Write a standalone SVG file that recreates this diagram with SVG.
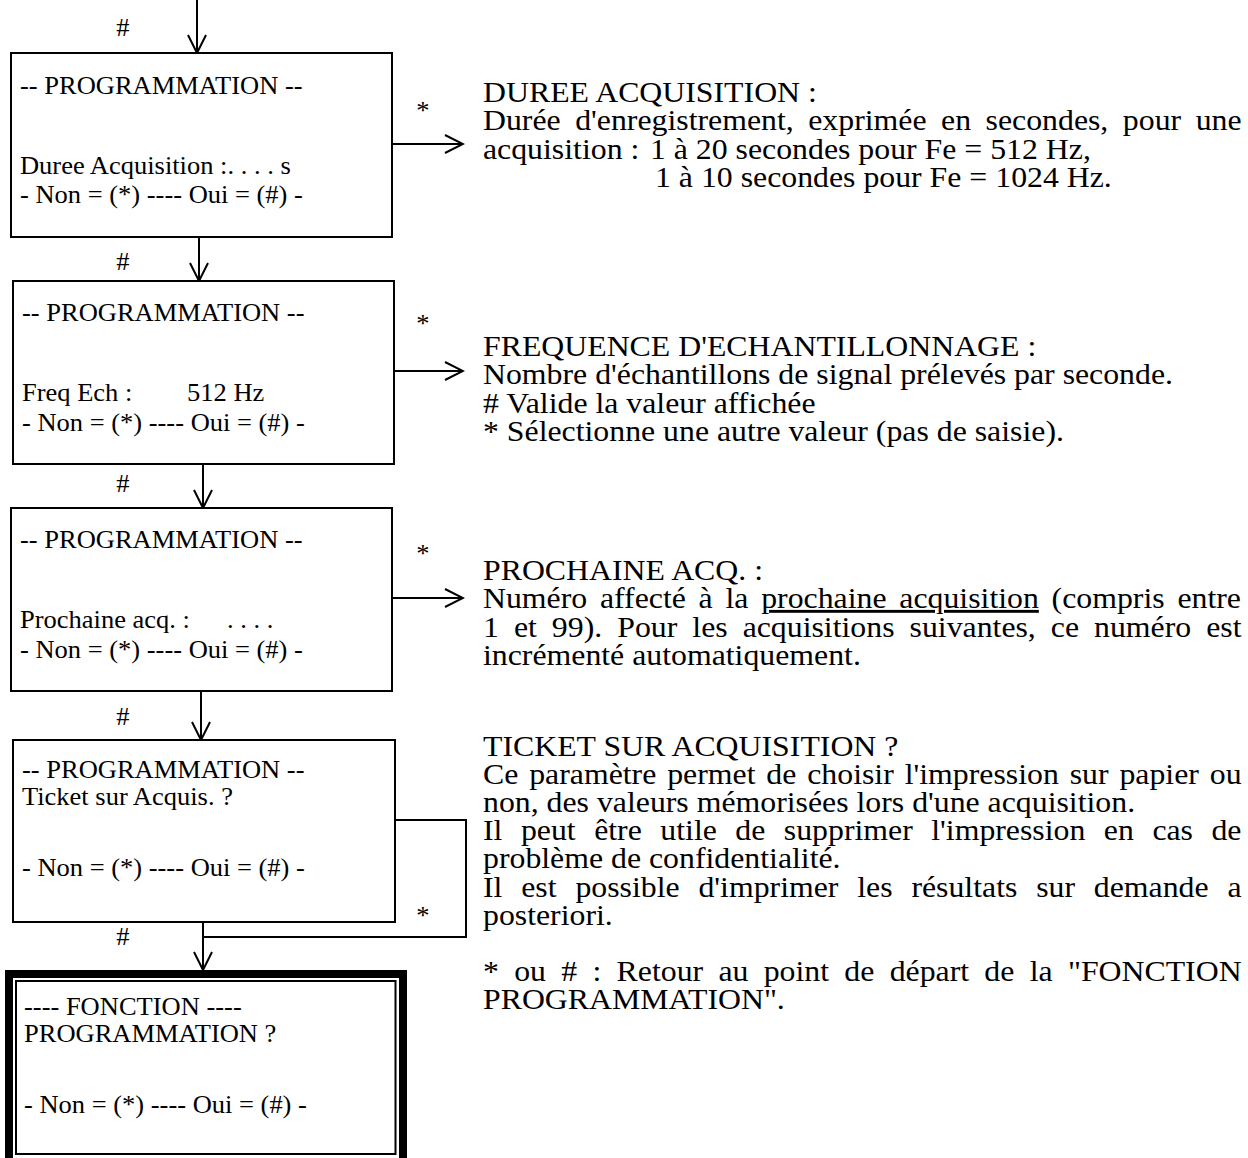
<svg xmlns="http://www.w3.org/2000/svg" width="1248" height="1158" viewBox="0 0 1248 1158">
  <style>
    .box { fill: #fff; stroke: #000; stroke-width: 2; }
    .wire { fill: none; stroke: #000; stroke-width: 2; }
    .bt { font-family: "Liberation Serif", "Times New Roman", serif; font-size: 24.16px; fill: #000; }
    .rt { font-family: "Liberation Serif", "Times New Roman", serif; font-size: 29px; fill: #000; }
    .mid { text-anchor: middle; }
  </style>
  <defs>
    <marker id="arr" viewBox="-20 -11 22 22" refX="0" refY="0" markerWidth="22" markerHeight="22" markerUnits="userSpaceOnUse" orient="auto">
      <path d="M-18,-9 L0,0 L-18,9" fill="none" stroke="#000" stroke-width="2"/>
    </marker>
  </defs>
  <rect width="1248" height="1158" fill="#fff"/>

  <!-- connectors -->
  <g id="connectors" class="wire">
    <line x1="197" y1="0" x2="197" y2="53" marker-end="url(#arr)"/>
    <line x1="199" y1="237" x2="199" y2="281" marker-end="url(#arr)"/>
    <line x1="203" y1="464" x2="203" y2="508" marker-end="url(#arr)"/>
    <line x1="201" y1="691" x2="201" y2="740" marker-end="url(#arr)"/>
    <line x1="203" y1="922" x2="203" y2="970" marker-end="url(#arr)"/>
    <line x1="392" y1="144" x2="463" y2="144" marker-end="url(#arr)"/>
    <line x1="394" y1="371" x2="463" y2="371" marker-end="url(#arr)"/>
    <line x1="392" y1="598" x2="463" y2="598" marker-end="url(#arr)"/>
    <polyline points="395,820 466,820 466,937 203,937"/>
  </g>

  <!-- screens -->
  <g id="screen-duree"><rect class="box" x="11" y="53" width="381" height="184"/></g>
  <g id="screen-freq"><rect class="box" x="13" y="281" width="381" height="183"/></g>
  <g id="screen-prochaine"><rect class="box" x="11" y="508" width="381" height="183"/></g>
  <g id="screen-ticket"><rect class="box" x="13" y="740" width="382" height="182"/></g>
  <g id="screen-fonction">
    <rect x="9" y="974" width="394" height="200" fill="#fff" stroke="#000" stroke-width="8"/>
    <rect x="16" y="981" width="379.5" height="173" fill="none" stroke="#000" stroke-width="2"/>
  </g>

  <!-- all text is set in a slightly widened face -->
  <g id="texts" transform="scale(1.097 1)">
    <!-- key labels -->
    <g id="keys" class="bt mid">
      <text x="112.1" y="36.5">#</text>
      <text x="112.1" y="270.5">#</text>
      <text x="112.1" y="492.5">#</text>
      <text x="112.1" y="725.5">#</text>
      <text x="112.1" y="945.5">#</text>
      <text x="385.6" y="119">*</text>
      <text x="385.6" y="332">*</text>
      <text x="385.6" y="562">*</text>
      <text x="385.6" y="924">*</text>
    </g>

    <!-- screen contents -->
    <g class="bt">
      <text x="18.23" y="94">-- PROGRAMMATION --</text>
      <text x="18.23" y="174">Duree Acquisition :. . . . s</text>
      <text x="18.23" y="203">- Non = (*) ---- Oui = (#) -</text>

      <text x="20.05" y="321">-- PROGRAMMATION --</text>
      <text x="20.05" y="401">Freq Ech :<tspan x="170.5">512 Hz</tspan></text>
      <text x="20.05" y="431">- Non = (*) ---- Oui = (#) -</text>

      <text x="18.23" y="548">-- PROGRAMMATION --</text>
      <text x="18.23" y="628">Prochaine acq. :<tspan x="206.9">. . . .</tspan></text>
      <text x="18.23" y="658">- Non = (*) ---- Oui = (#) -</text>

      <text x="20.05" y="778">-- PROGRAMMATION --</text>
      <text x="20.05" y="805">Ticket sur Acquis. ?</text>
      <text x="20.05" y="876">- Non = (*) ---- Oui = (#) -</text>

      <text x="21.88" y="1015">---- FONCTION ----</text>
      <text x="21.88" y="1042">PROGRAMMATION ?</text>
      <text x="21.88" y="1113">- Non = (*) ---- Oui = (#) -</text>
    </g>

    <!-- explanations -->
    <g id="notes" class="rt">
      <text x="440.3" y="102">DUREE ACQUISITION :</text>
      <text x="440.3" y="130" word-spacing="6.00">Durée d'enregistrement, exprimée en secondes, pour une</text>
      <text x="440.3" y="159">acquisition :<tspan x="592.5">1 à 20 secondes pour Fe = 512 Hz,</tspan></text>
      <text x="597.1" y="187">1 à 10 secondes pour Fe = 1024 Hz.</text>

      <text x="440.3" y="356">FREQUENCE D'ECHANTILLONNAGE :</text>
      <text x="440.3" y="384.5">Nombre d'échantillons de signal prélevés par seconde.</text>
      <text x="440.3" y="413"># Valide la valeur affichée</text>
      <text x="440.3" y="441">* Sélectionne une autre valeur (pas de saisie).</text>

      <text x="440.3" y="580">PROCHAINE ACQ. :</text>
      <text x="440.3" y="608" word-spacing="4.39">Numéro affecté à la <tspan text-decoration="underline">prochaine acquisition</tspan> (compris entre</text>
      <text x="440.3" y="637" word-spacing="6.44">1 et 99). Pour les acquisitions suivantes, ce numéro est</text>
      <text x="440.3" y="665">incrémenté automatiquement.</text>

      <text x="440.3" y="756">TICKET SUR ACQUISITION ?</text>
      <text x="440.3" y="784" word-spacing="2.68">Ce paramètre permet de choisir l'impression sur papier ou</text>
      <text x="440.3" y="812">non, des valeurs mémorisées lors d'une acquisition.</text>
      <text x="440.3" y="840" word-spacing="9.62">Il peut être utile de supprimer l'impression en cas de</text>
      <text x="440.3" y="868">problème de confidentialité.</text>
      <text x="440.3" y="897" word-spacing="9.92">Il est possible d'imprimer les résultats sur demande a</text>
      <text x="440.3" y="925">posteriori.</text>

      <text x="440.3" y="981" word-spacing="6.69">* ou # : Retour au point de départ de la "FONCTION</text>
      <text x="440.3" y="1009">PROGRAMMATION".</text>
    </g>
  </g>
</svg>
